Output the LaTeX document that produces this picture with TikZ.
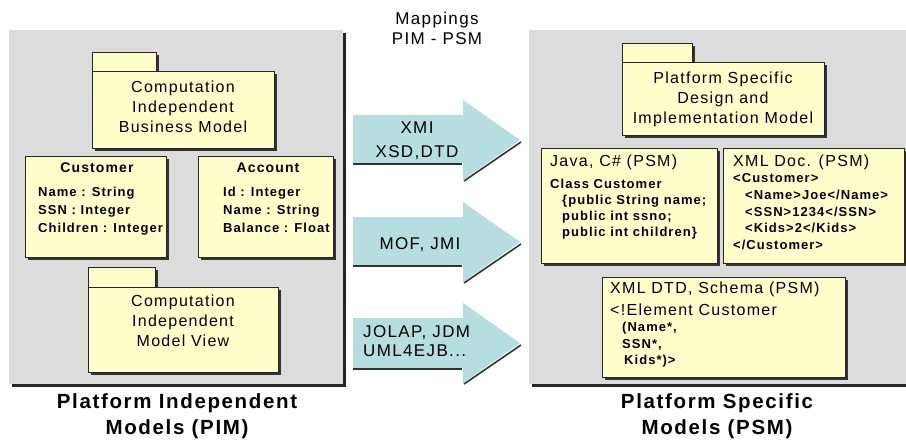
\documentclass[tikz,border=0pt]{standalone}
\usepackage{fontspec}
\setmainfont[LetterSpace=8]{Liberation Sans}
\usetikzlibrary{positioning}

\definecolor{panelgray}{HTML}{DCDCDC}
\definecolor{noteyellow}{HTML}{FFFFCC}
\definecolor{mapblue}{HTML}{B6DEE1}

\tikzset{
	panel/.style={fill=panelgray},
	panelshade/.style={fill=black!85},
	boxshade/.style={fill=black!80},
	notebox/.style={fill=noteyellow,draw=black!85,line width=0.8pt},
	maparrow/.style={fill=mapblue},
	arrowshade/.style={draw=black!80,line width=1.6pt},
	pkgtext/.style={font=\fontsize{16}{20}\selectfont,align=center,inner sep=0pt,anchor=north},
	classhead/.style={font=\bfseries\fontsize{14}{16}\selectfont,inner sep=0pt},
	classtext/.style={font=\bfseries\fontsize{13}{18}\selectfont,align=left,inner sep=0pt,anchor=north west},
	psmhead/.style={font=\fontsize{16}{18}\selectfont,inner sep=0pt,anchor=base west},
	codetext/.style={font=\bfseries\fontsize{13}{16.5}\selectfont,align=left,inner sep=0pt,anchor=north west},
	maptext/.style={font=\fontsize{17}{24}\selectfont,inner sep=0pt},
	bigtitle/.style={font=\bfseries\fontsize{20.5}{25.5}\selectfont,align=center,inner sep=0pt,anchor=north}
}

\begin{document}
\begin{tikzpicture}[x=1pt,y=-1pt]
	\useasboundingbox (0,0) rectangle (906,440);
	% mappings title
	\node[font=\fontsize{17}{20}\selectfont,align=center,inner sep=0pt,anchor=north] (maptitle) at (437,12) {Mappings\\PIM - PSM};
	%
	% PIM side
	\fill[panelshade] (12,33) rectangle (346,387);
	\fill[panel] (9,30) rectangle (343,384);
		\fill[boxshade] (95,55) rectangle (159,74);
		\fill[boxshade] (95,74) rectangle (277,151);
		\draw[notebox] (92,52) rectangle (156,71);
		\draw[notebox] (92,71) rectangle (274,148);
	\node[pkgtext] (cibm) at (183,81) {Computation\\Independent\\Business Model};
	%
		\fill[boxshade] (28,159) rectangle (169,260);
		\draw[notebox] (25,156) rectangle (166,257);
	\node[classhead] (custhead) at (97,168) {Customer};
	\node[classtext] (custattr) at (38,187.3) {Name : String\\SSN : Integer\\Children : Integer};
	%
		\fill[boxshade] (201,159) rectangle (336,260);
		\draw[notebox] (198,156) rectangle (333,257);
	\node[classhead] (accthead) at (268,168) {Account};
	\node[classtext] (acctattr) at (223,187.3) {Id : Integer\\Name : String\\Balance : Float};
	%
		\fill[boxshade] (91,270) rectangle (158,290);
		\fill[boxshade] (91,290) rectangle (281,375);
		\draw[notebox] (88,267) rectangle (155,287);
		\draw[notebox] (88,287) rectangle (278,372);
	\node[pkgtext] (cimv) at (183,294.2) {Computation\\Independent\\Model View};
	%
	\node[bigtitle] (pimtitle) at (177,393.5) {Platform Independent\\Models (PIM)};
	%
	% mapping arrows
	\fill[maparrow] (353,115) -- (463,115) -- (463,100) -- (520,140) -- (463,180) -- (463,163) -- (353,163) -- cycle;
		\draw[arrowshade] (353,164) -- (462,164);
		\draw[arrowshade] (464,181) -- (521,142);
	\node[maptext,align=center,anchor=north] (xmi) at (417,122) {XMI\\XSD,DTD};
	%
	\fill[maparrow] (353,217) -- (463,217) -- (463,202) -- (520,242) -- (463,282) -- (463,265) -- (353,265) -- cycle;
		\draw[arrowshade] (353,266) -- (462,266);
		\draw[arrowshade] (464,283) -- (521,244);
	\node[maptext,anchor=base] (mof) at (420,249) {MOF, JMI};
	%
	\fill[maparrow] (353,318) -- (463,318) -- (463,303) -- (520,343) -- (463,383) -- (463,368) -- (353,368) -- cycle;
		\draw[arrowshade] (353,369) -- (462,369);
		\draw[arrowshade] (464,384) -- (521,345);
	\node[maptext,font=\fontsize{17}{18.5}\selectfont,align=left,anchor=north west] (jolap) at (363,325.8) {JOLAP, JDM\\UML4EJB...};
	%
	% PSM side
	\fill[panelshade] (532,33) rectangle (909,387);
	\fill[panel] (529,30) rectangle (906,384);
		\fill[boxshade] (625,46) rectangle (695,65);
		\fill[boxshade] (625,65) rectangle (827,138);
		\draw[notebox] (622,43) rectangle (692,62);
		\draw[notebox] (622,62) rectangle (824,135);
	\node[pkgtext] (psdim) at (723,72.2) {Platform Specific\\Design and\\Implementation Model};
	%
		\fill[boxshade] (544,151) rectangle (720,266);
		\draw[notebox] (541,148) rectangle (717,263);
	\node[psmhead] (javahead) at (550,166.6) {Java, C\# (PSM)};
	\node[codetext,font=\bfseries\fontsize{13}{16}\selectfont] (javacode) at (550,179.3) {Class Customer\\\hspace*{12pt}\{public String name;\\\hspace*{12pt}public int ssno;\\\hspace*{12pt}public int children\}};
	%
		\fill[boxshade] (726,151) rectangle (907,266);
		\draw[notebox] (723,148) rectangle (904,263);
	\node[psmhead] (xmlhead) at (733,166.6) {XML Doc. (PSM)};
	\node[codetext,font=\bfseries\fontsize{13}{16.8}\selectfont] (xmlcode) at (733,173.3) {<Customer>\\\hspace*{12pt}<Name>Joe</Name>\\\hspace*{12pt}<SSN>1234</SSN>\\\hspace*{12pt}<Kids>2</Kids>\\</Customer>};
	%
		\fill[boxshade] (605,280) rectangle (848,380);
		\draw[notebox] (602,277) rectangle (845,377);
	\node[psmhead] (dtdhead) at (610,293.6) {XML DTD, Schema (PSM)};
	\node[psmhead] (dtdelem) at (610,315.6) {<!Element Customer};
	\node[codetext] (dtdcode) at (622,322.3) {(Name*,\\SSN*,\\\hspace*{2pt}Kids*)>};
	%
	\node[bigtitle] (psmtitle) at (717,393.5) {Platform Specific\\Models (PSM)};
\end{tikzpicture}
\end{document}
